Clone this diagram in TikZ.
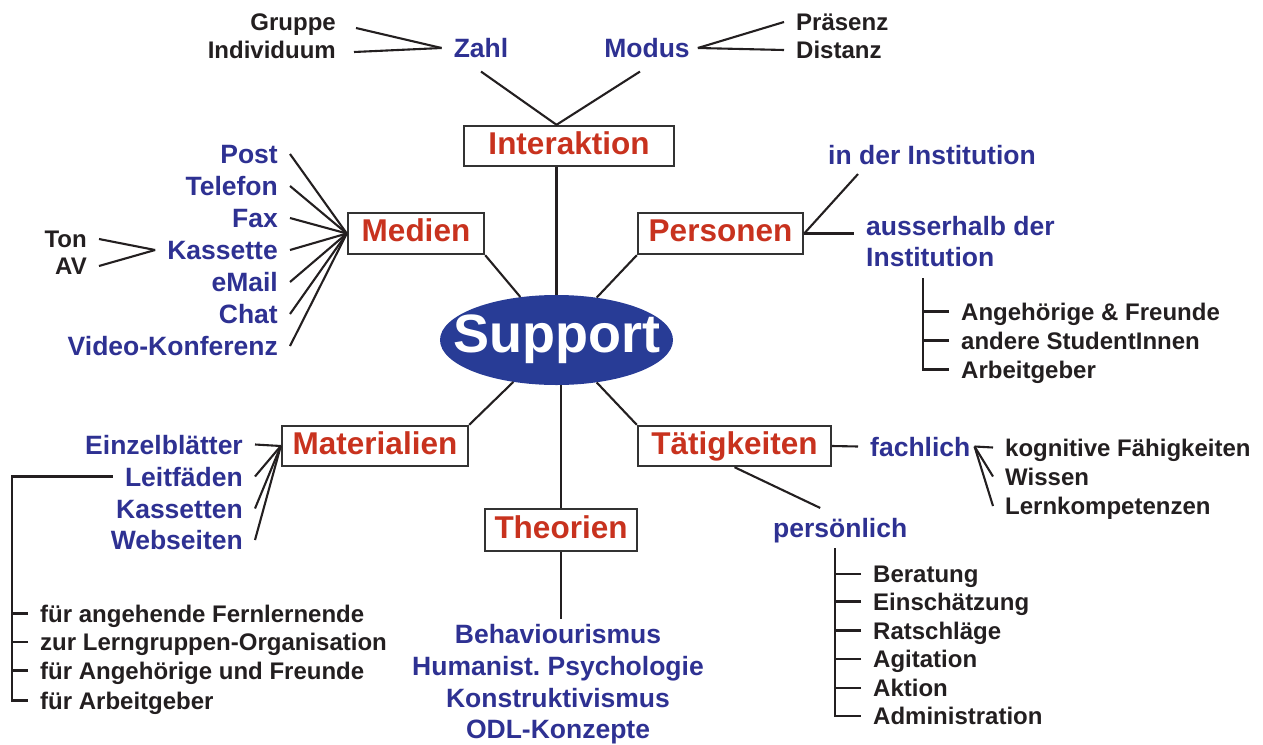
\documentclass[tikz,border=0pt]{standalone}
\usepackage{fontspec}
\setmainfont{Liberation Sans}
\usepackage{xcolor}
\usetikzlibrary{positioning,shapes}
\definecolor{mmblue}{RGB}{46,49,146}
\definecolor{mmred}{RGB}{200,50,30}
\definecolor{mmfill}{RGB}{40,60,150}
\definecolor{mmtext}{RGB}{35,31,32}
\definecolor{mmgray}{RGB}{51,51,51}
\frenchspacing

\begin{document}
\begin{tikzpicture}[x=1pt,y=-1pt,
  box/.style={draw=mmgray,line width=2.4pt,fill=white,text=mmred,font=\bfseries\fontsize{31.5}{31.5}\selectfont,inner sep=0pt,minimum height=40pt,text height=23.4pt,text depth=6.9pt},
  bl/.style={text=mmblue,font=\bfseries\fontsize{26.5}{26.5}\selectfont,inner xsep=12pt,inner ysep=0pt,text height=23.9pt,text depth=4.8pt},
  bk/.style={text=mmtext,font=\bfseries\fontsize{24}{24}\selectfont,inner xsep=12pt,inner ysep=0pt,text height=21.6pt,text depth=4.3pt},
  ln/.style={draw=mmtext,line width=2.1pt}]
\useasboundingbox (0,0) rectangle (1263,744);
\node[ellipse,fill=mmfill,minimum width=233pt,minimum height=90pt,inner sep=0pt] (sup) at (556.5,340) {};
\node[text=white,font=\bfseries\fontsize{54}{54}\selectfont,inner sep=0pt,text height=40pt,text depth=15.4pt] (suptxt) at (556.5,340) {Support};
%
\node[box,minimum width=210pt] (int) at (569,146) {Interaktion};
\node[box,minimum width=136pt,minimum height=41pt] (med) at (416,233.5) {Medien};
\node[box,minimum width=165pt,minimum height=41pt] (per) at (720.5,233.5) {Personen};
\node[box,minimum width=186pt] (mat) at (375,446) {Materialien};
\node[box,minimum width=193pt] (tae) at (734.5,446) {Tätigkeiten};
\node[box,minimum width=152pt,minimum height=42pt] (the) at (561,530) {Theorien};
%
\node[bl] (zahl) at (481,48) {Zahl};
\node[bl] (modus) at (647,48) {Modus};
\node[bk,anchor=east] (grp) at (348,22) {Gruppe};
\node[bk,anchor=east] (ind) at (348,50) {Individuum};
\node[bk,anchor=west] (praes) at (784,22) {Präsenz};
\node[bk,anchor=west] (dist) at (784,50) {Distanz};
%
\node[bl,anchor=east] (post) at (290,154) {Post};
\node[bl,anchor=east] (tel) at (290,186) {Telefon};
\node[bl,anchor=east] (fax) at (290,218) {Fax};
\node[bl,anchor=east] (kas) at (290,250) {Kassette};
\node[bl,anchor=east] (mail) at (290,282) {eMail};
\node[bl,anchor=east] (chat) at (290,314) {Chat};
\node[bl,anchor=east] (video) at (290,346) {Video-Konferenz};
\node[bk,anchor=east] (ton) at (99,239) {Ton};
\node[bk,anchor=east] (av) at (99,266) {AV};
%
\node[bl,anchor=west] (inst) at (816,154.5) {in der Institution};
\node[bl,anchor=west] (aus) at (854,225.5) {ausserhalb der};
\node[bl,anchor=west] (aus2) at (854,256.5) {Institution};
\node[bk,anchor=west] (p1) at (949,311.5) {Angehörige \& Freunde};
\node[bk,anchor=west] (p2) at (949,340.5) {andere StudentInnen};
\node[bk,anchor=west] (p3) at (949,369.5) {Arbeitgeber};
\coordinate (pbar) at (923,278);
%
\node[bl,anchor=east] (einz) at (255,444.5) {Einzelblätter};
\node[bl,anchor=east] (leit) at (255,476.5) {Leitfäden};
\node[bl,anchor=east] (kass) at (255,508.5) {Kassetten};
\node[bl,anchor=east] (web) at (255,540) {Webseiten};
\node[bk,anchor=west] (m1) at (28,613.5) {für angehende Fernlernende};
\node[bk,anchor=west] (m2) at (28,642) {zur Lerngruppen-Organisation};
\node[bk,anchor=west] (m3) at (28,670.5) {für Angehörige und Freunde};
\node[bk,anchor=west] (m4) at (28,700.5) {für Arbeitgeber};
\coordinate (mbar) at (12,700.5);
%
\node[bl] (beh) at (558,634) {Behaviourismus};
\node[bl] (hum) at (558,666) {Humanist. Psychologie};
\node[bl] (kon) at (558,697.5) {Konstruktivismus};
\node[bl] (odl) at (558,729) {ODL-Konzepte};
%
\node[bl,anchor=west] (fach) at (858,446.5) {fachlich};
\node[bk,anchor=west] (kog) at (993,447.5) {kognitive Fähigkeiten};
\node[bk,anchor=west] (wis) at (993,476.5) {Wissen};
\node[bk,anchor=west] (lern) at (993,506) {Lernkompetenzen};
\node[bl,anchor=west] (pers) at (761,527.5) {persönlich};
\node[bk,anchor=west] (t1) at (861,574) {Beratung};
\node[bk,anchor=west] (t2) at (861,601.5) {Einschätzung};
\node[bk,anchor=west] (t3) at (861,630.5) {Ratschläge};
\node[bk,anchor=west] (t4) at (861,659) {Agitation};
\node[bk,anchor=west] (t5) at (861,688) {Aktion};
\node[bk,anchor=west] (t6) at (861,716) {Administration};
\coordinate (tbar) at (835,548);
%
\draw[ln] (sup.north) -- (int.south -| sup.north);
\draw[ln] ([yshift=-9pt]zahl.south) -- (sup.north |- int.north) -- ([xshift=-7pt,yshift=-9pt]modus.south);
\draw[ln] ([xshift=8pt,yshift=-6pt]grp.east) -- (zahl.west);
\draw[ln] ([xshift=6pt,yshift=-2pt]ind.east) -- (zahl.west);
\draw[ln] ([xshift=-4pt]modus.east) -- (praes.west);
\draw[ln] ([xshift=-4pt]modus.east) -- (dist.west);
\draw[ln] (med.south east) -- (sup);
\draw[ln] (per.south west) -- (sup);
\draw[ln] (mat.north east) -- (sup);
\draw[ln] (tae.north west) -- (sup);
\draw[ln] (the.north) -- (the.north |- sup.south);
\draw[ln] (the.south) -- (the.south |- beh.north);
%
\draw[ln] (post.east) -- (med.west);
\draw[ln] (tel.east) -- (med.west);
\draw[ln] (fax.east) -- (med.west);
\draw[ln] (kas.east) -- (med.west);
\draw[ln] (mail.east) -- (med.west);
\draw[ln] (chat.east) -- (med.west);
\draw[ln] (video.east) -- (med.west);
\draw[ln] (ton.east) -- (kas.west);
\draw[ln] (av.east) -- (kas.west);
%
\draw[ln] (per.east) -- ([xshift=42pt,yshift=-5pt]inst.south west);
\draw[ln] (per.east) -- (per.east -| aus.west);
\draw[ln] (pbar) |- (p3.west);
\draw[ln] (p1.west) -- (p1.west -| pbar);
\draw[ln] (p2.west) -- (p2.west -| pbar);
%
\draw[ln] (einz.east) -- (mat.west);
\draw[ln] (leit.east) -- (mat.west);
\draw[ln] (kass.east) -- (mat.west);
\draw[ln] (web.east) -- (mat.west);
\draw[ln] (leit.west) -| (mbar) -- (m4.west);
\draw[ln] (m1.west) -- (m1.west -| mbar);
\draw[ln] (m2.west) -- (m2.west -| mbar);
\draw[ln] (m3.west) -- (m3.west -| mbar);
%
\draw[ln] (tae.east) -- (fach.west);
\draw[ln] (tae.south) -- ([xshift=-20pt,yshift=5pt]pers.north);
\draw[ln] ([xshift=-8pt]fach.east) -- (kog.west);
\draw[ln] ([xshift=-8pt]fach.east) -- (wis.west);
\draw[ln] ([xshift=-8pt]fach.east) -- (lern.west);
\draw[ln] (tbar) |- (t6.west);
\draw[ln] (t1.west) -- (t1.west -| tbar);
\draw[ln] (t2.west) -- (t2.west -| tbar);
\draw[ln] (t3.west) -- (t3.west -| tbar);
\draw[ln] (t4.west) -- (t4.west -| tbar);
\draw[ln] (t5.west) -- (t5.west -| tbar);
\end{tikzpicture}
\end{document}
